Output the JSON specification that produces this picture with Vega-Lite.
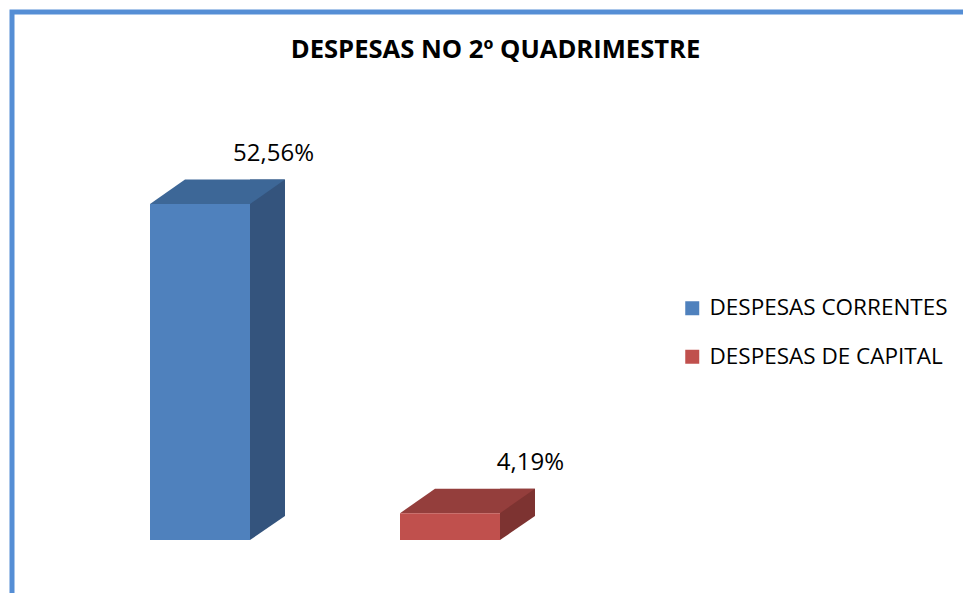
{
  "$schema": "https://vega.github.io/schema/vega-lite/v6.json",
  "width": 961,
  "height": 591,
  "autosize": {"type": "none"},
  "padding": {"left": 12, "top": 12, "right": 0, "bottom": 0},
  "background": "white",
  "config": {
    "view": {"stroke": "#558ED5", "strokeWidth": 5},
    "locale": {"number": {"decimal": ",", "thousands": ".", "grouping": [3], "currency": ["R$", ""]}}
  },
  "title": {
    "text": "DESPESAS NO 2º QUADRIMESTRE",
    "font": "Open Sans",
    "fontSize": 25.6,
    "fontWeight": "bold",
    "color": "#000000",
    "anchor": "middle",
    "frame": "group",
    "dx": 3,
    "dy": 72,
    "baseline": "alphabetic",
    "offset": 0
  },
  "data": {
    "values": [
      {"categoria": "DESPESAS CORRENTES", "percentual": 0.5256},
      {"categoria": "DESPESAS DE CAPITAL", "percentual": 0.0419}
    ]
  },
  "encoding": {
    "x": {
      "field": "categoria",
      "type": "nominal",
      "sort": ["DESPESAS CORRENTES", "DESPESAS DE CAPITAL"],
      "axis": null,
      "scale": {"range": [63, 563], "paddingInner": 0.6, "paddingOuter": 0.3}
    },
    "y": {
      "field": "percentual",
      "type": "quantitative",
      "axis": null,
      "scale": {"domain": [0, 0.5256], "range": [528, 192], "nice": false, "zero": true}
    }
  },
  "layer": [
    {
      "mark": {"type": "bar", "width": 35, "xOffset": 67.5, "yOffset": -24.5, "y2Offset": -24.5},
      "encoding": {
        "y2": {"datum": 0},
        "color": {
          "field": "categoria",
          "type": "nominal",
          "scale": {"domain": ["DESPESAS CORRENTES", "DESPESAS DE CAPITAL"], "range": ["#34547D", "#7D3331"]},
          "legend": null
        }
      }
    },
    {
      "mark": {"type": "point", "shape": "M0.5,0L0.5,-0.25L0.85,-0.25L0.85,-0.24Z", "size": 40000, "filled": true, "opacity": 1, "strokeWidth": 0},
      "encoding": {
        "y": {"datum": 0},
        "color": {
          "field": "categoria",
          "type": "nominal",
          "scale": {"domain": ["DESPESAS CORRENTES", "DESPESAS DE CAPITAL"], "range": ["#34547D", "#7D3331"]},
          "legend": null
        }
      }
    },
    {
      "mark": {"type": "point", "shape": "M-0.5,0L-0.15,-0.245L0.85,-0.245L0.5,0Z", "size": 40000, "filled": true, "opacity": 1, "strokeWidth": 0},
      "encoding": {
        "color": {
          "field": "categoria",
          "type": "nominal",
          "scale": {"domain": ["DESPESAS CORRENTES", "DESPESAS DE CAPITAL"], "range": ["#3D6797", "#943E3C"]},
          "legend": null
        }
      }
    },
    {
      "mark": {"type": "bar"},
      "encoding": {
        "color": {
          "field": "categoria",
          "type": "nominal",
          "scale": {"domain": ["DESPESAS CORRENTES", "DESPESAS DE CAPITAL"], "range": ["#4F81BD", "#C0504D"]},
          "legend": {
            "title": null,
            "orient": "none",
            "legendX": 669,
            "legendY": 285,
            "symbolType": "square",
            "symbolSize": 196,
            "symbolStrokeWidth": 0,
            "labelFont": "Open Sans",
            "labelFontSize": 22.5,
            "labelColor": "#000000",
            "labelLimit": 0,
            "rowPadding": 25.5,
            "labelOffset": 6,
            "padding": 0
          }
        }
      }
    },
    {
      "mark": {"type": "text", "align": "right", "baseline": "alphabetic", "dx": 114, "dy": -43, "font": "Open Sans", "fontSize": 24, "color": "#000000"},
      "encoding": {
        "text": {"field": "percentual", "type": "quantitative", "format": ".2%"}
      }
    }
  ],
  "resolve": {"scale": {"color": "independent"}}
}
